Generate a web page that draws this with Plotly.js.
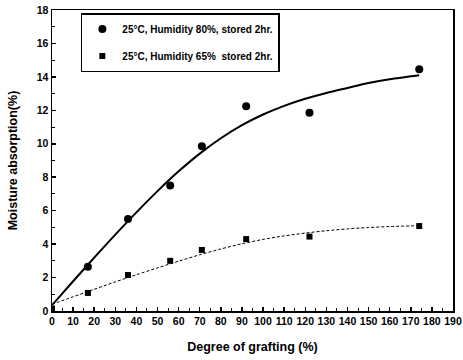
<!DOCTYPE html>
<html><head><meta charset="utf-8">
<script src="https://cdn.plot.ly/plotly-3.0.1.min.js"></script>
<style>html,body{margin:0;padding:0;background:#fff}#chart{width:463px;height:360px}</style>
</head><body><div id="chart"></div>
<script>
// Measured points
const grafting80 = [17, 36, 56, 71, 92, 122, 174];
const absorb80   = [2.65, 5.5, 7.5, 9.85, 12.25, 11.85, 14.45];
const grafting65 = [0, 17, 36, 56, 71, 92, 122, 174];
const absorb65   = [0.15, 1.08, 2.15, 3.0, 3.65, 4.3, 4.45, 5.08];
// Fitted curves
const fitX   = [0, 10, 20, 30, 40, 50, 60, 70, 80, 90, 100, 110, 120, 130, 140, 150, 160, 174];
const fit80  = [0.35, 1.78, 3.19, 4.57, 5.9, 7.17, 8.35, 9.41, 10.33, 11.11, 11.75, 12.27, 12.69, 13.04, 13.34, 13.63, 13.86, 14.1];
const fit65  = [0.4, 0.85, 1.3, 1.74, 2.17, 2.58, 2.98, 3.36, 3.71, 4.02, 4.28, 4.49, 4.66, 4.8, 4.91, 4.99, 5.05, 5.1];
const label80 = "25°C, Humidity 80%, stored 2hr.";
const label65 = "25°C, Humidity 65%  stored 2hr.";

const F = "Liberation Sans, Arial, sans-serif";
const traces = [
  {x: fitX, y: fit80, mode: 'lines', line: {color: '#000', width: 2, shape: 'spline', smoothing: 0.8}, showlegend: false, hoverinfo: 'skip'},
  {x: fitX, y: fit65, mode: 'lines', line: {color: '#000', width: 1, dash: '3px,2px', shape: 'spline', smoothing: 0.8}, showlegend: false, hoverinfo: 'skip'},
  {x: grafting80, y: absorb80, mode: 'markers', name: label80, legendgroup: 'a',
   marker: {symbol: 'circle', size: 8, color: '#000'}},
  {x: grafting65, y: absorb65, mode: 'markers', name: label65, legendgroup: 'b',
   marker: {symbol: 'square', size: 6, color: '#000'}}
];
const axisCommon = {
  showline: true, linecolor: '#000', linewidth: 1.5, mirror: true,
  ticks: 'inside', ticklen: 4, tickwidth: 1.5, tickcolor: '#000',
  showgrid: false, zeroline: false,
  tickfont: {family: F, size: 10.5, color: '#000', weight: 'bold'}
};
const layout = {
  width: 463, height: 360,
  margin: {l: 52, r: 10, t: 10, b: 49},
  paper_bgcolor: '#fff', plot_bgcolor: '#fff',
  font: {family: F, color: '#000'},
  xaxis: Object.assign({}, axisCommon, {
    range: [0, 190], dtick: 10, tick0: 0,
    minor: {dtick: 5, ticks: 'inside', ticklen: 3, tickcolor: '#000', tickwidth: 1},
    title: {text: 'Degree of grafting (%)', font: {family: F, size: 12.5, weight: 'bold'}, standoff: 16}
  }),
  yaxis: Object.assign({}, axisCommon, {
    range: [0, 18], dtick: 2, tick0: 0,
    minor: {dtick: 1, ticks: 'inside', ticklen: 3, tickcolor: '#000', tickwidth: 1},
    title: {text: 'Moisture absorption(%)', font: {family: F, size: 12.5, weight: 'bold'}, standoff: 16}
  }),
  legend: {
    x: 0.072, y: 0.99, xanchor: 'left', yanchor: 'top',
    bgcolor: '#fff', bordercolor: '#000', borderwidth: 1.5,
    font: {family: F, size: 10, weight: 'bold', color: '#000'},
    traceorder: 'grouped', tracegroupgap: 8, itemwidth: 30
  },
  showlegend: true
};
Plotly.newPlot('chart', traces, layout, {staticPlot: true, displayModeBar: false});
</script>
</body></html>
